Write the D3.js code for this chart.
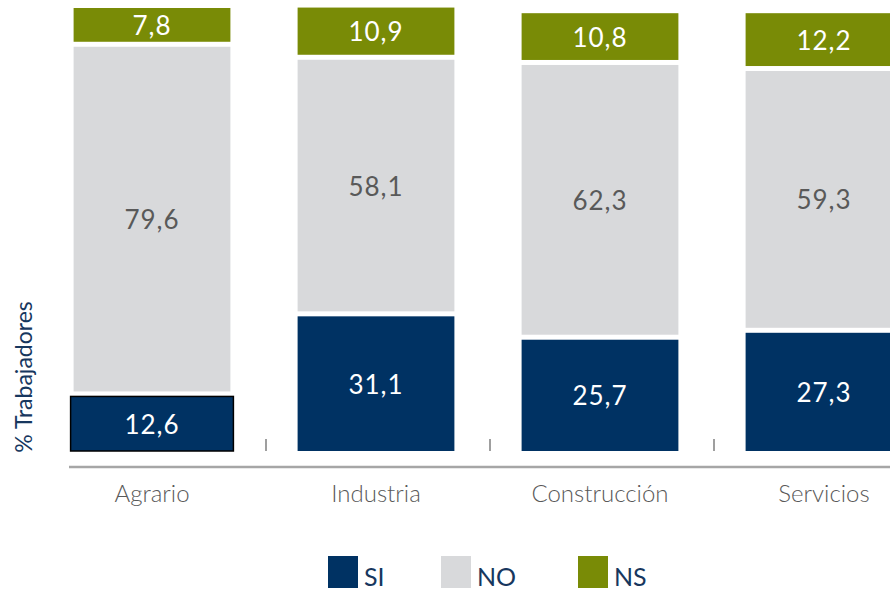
<!DOCTYPE html>
<html>
<head>
<meta charset="utf-8">
<script src="https://cdn.jsdelivr.net/npm/d3@7"></script>
<style>
  body { margin: 0; background: #fff; }
  svg { display: block; font-family: "Lato", "Open Sans", sans-serif; }
</style>
</head>
<body>
<svg class="chart" width="890" height="594"></svg>
<script>
var categories = ['Agrario', 'Industria', 'Construcción', 'Servicios'];
var series = ['SI', 'NO', 'NS'];
var valuesSI = [12.6, 31.1, 25.7, 27.3];
var valuesNO = [79.6, 58.1, 62.3, 59.3];
var valuesNS = [7.8, 10.9, 10.8, 12.2];
var colors = ['#003263', '#d8d9db', '#798b06'];
var labelColors = ['#ffffff', '#595959', '#ffffff'];

var svg = d3.select('.chart');
var gap = 5;

var x = d3.scaleBand().domain(categories).range([40, 936]).paddingInner(0.3).paddingOuter(0.15);
var y = d3.scaleLinear().domain([0, 100]).range([451, 18]);

// filas para el apilado
var rows = categories.map(function(c, i){
	return {cat: c, SI: valuesSI[i], NO: valuesNO[i], NS: valuesNS[i]};
});
var stacked = d3.stack().keys(series)(rows);

var fmt = function(v){ return d3.format('.1f')(v).replace('.', ','); };

var layers = svg.selectAll('g.layer').data(stacked).enter()
	.append('g')
	.attr('class', 'layer')
	.attr('fill', function(d, i){ return colors[i]; });

layers.selectAll('rect').data(function(d){ return d.map(function(p){ return {p: p, k: d.index}; }); })
	.enter().append('rect')
	.attr('x', function(d){ return x(d.p.data.cat) - (d.p.data.cat == 'Agrario' && d.k == 0 ? 3 : 0); })
	.attr('width', function(d){ return x.bandwidth() + (d.p.data.cat == 'Agrario' && d.k == 0 ? 6 : 0); })
	.attr('y', function(d){ return y(d.p[1]) - d.k * gap; })
	.attr('height', function(d){ return y(d.p[0]) - y(d.p[1]); })
	.attr('stroke', function(d){ return d.p.data.cat == 'Agrario' && d.k == 0 ? '#000' : 'none'; })
	.attr('stroke-width', 1.5);

layers.selectAll('text').data(function(d){ return d.map(function(p){ return {p: p, k: d.index}; }); })
	.enter().append('text')
	.attr('x', function(d){ return x(d.p.data.cat) + x.bandwidth() / 2; })
	.attr('y', function(d){ return (y(d.p[0]) + y(d.p[1])) / 2 - d.k * gap; })
	.attr('text-anchor', 'middle')
	.attr('dominant-baseline', 'central')
	.attr('font-size', 26)
	.attr('letter-spacing', 1)
	.attr('fill', function(d){ return labelColors[d.k]; })
	.text(function(d){ return fmt(d.p[1] - d.p[0]); });

// eje X
svg.append('line')
	.attr('x1', 69).attr('x2', 890)
	.attr('y1', 467).attr('y2', 467)
	.attr('stroke', '#a6a6a6').attr('stroke-width', 2.5);

svg.selectAll('line.tick').data(categories.slice(1)).enter()
	.append('line')
	.attr('class', 'tick')
	.attr('x1', function(d){ return x(d) - x.step() * x.paddingInner() / 2 + 2; })
	.attr('x2', function(d){ return x(d) - x.step() * x.paddingInner() / 2 + 2; })
	.attr('y1', 439).attr('y2', 451)
	.attr('stroke', '#7f7f7f').attr('stroke-width', 1.5);

svg.selectAll('text.cat').data(categories).enter()
	.append('text')
	.attr('class', 'cat')
	.attr('x', function(d){ return x(d) + x.bandwidth() / 2; })
	.attr('y', 502)
	.attr('text-anchor', 'middle')
	.attr('font-size', 24)
	.attr('font-weight', 300)
	.attr('fill', '#595959')
	.text(function(d){ return d; });

// titulo eje Y
svg.append('text')
	.attr('transform', 'translate(32,377) rotate(-90)')
	.attr('text-anchor', 'middle')
	.attr('font-size', 23)
	.attr('fill', '#17375e')
	.text('% Trabajadores');

// leyenda
var legendX = [328, 441, 578];
var leg = svg.selectAll('g.leg').data(series).enter()
	.append('g')
	.attr('class', 'leg')
	.attr('transform', function(d, i){ return 'translate(' + legendX[i] + ',556)'; });
leg.append('rect').attr('width', 30).attr('height', 32).attr('fill', function(d, i){ return colors[i]; });
leg.append('text')
	.attr('x', 36).attr('y', 30)
	.attr('font-size', 25)
	.attr('fill', '#17375e')
	.text(function(d){ return d; });
</script>
</body>
</html>
